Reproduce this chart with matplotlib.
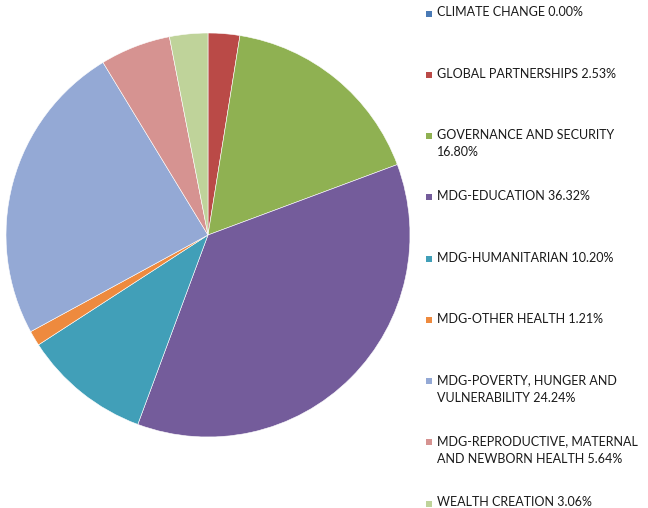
import matplotlib
matplotlib.use("Agg")
import matplotlib.pyplot as plt
from matplotlib.patches import Rectangle

categories = ["CLIMATE CHANGE", "GLOBAL PARTNERSHIPS", "GOVERNANCE AND SECURITY",
              "MDG-EDUCATION", "MDG-HUMANITARIAN", "MDG-OTHER HEALTH",
              "MDG-POVERTY, HUNGER AND VULNERABILITY",
              "MDG-REPRODUCTIVE, MATERNAL AND NEWBORN HEALTH", "WEALTH CREATION"]
values = [0.00, 2.53, 16.80, 36.32, 10.20, 1.21, 24.24, 5.64, 3.06]
legend_labels = ["CLIMATE CHANGE 0.00%", "GLOBAL PARTNERSHIPS 2.53%",
                 "GOVERNANCE AND SECURITY\n16.80%", "MDG-EDUCATION 36.32%",
                 "MDG-HUMANITARIAN 10.20%", "MDG-OTHER HEALTH 1.21%",
                 "MDG-POVERTY, HUNGER AND\nVULNERABILITY 24.24%",
                 "MDG-REPRODUCTIVE, MATERNAL\nAND NEWBORN HEALTH 5.64%",
                 "WEALTH CREATION 3.06%"]
colors = ["#4A7AB5", "#BA4A47", "#8FB152", "#745C9B", "#419FB8", "#EE8A3E",
          "#94A9D5", "#D69391", "#BFD39A"]

W, H = 648, 508
fig = plt.figure(figsize=(W / 100, H / 100), dpi=100)
fig.patch.set_facecolor("white")

cx, cy, r = 208, 235, 202
ax = fig.add_axes([(cx - r) / W, (H - cy - r) / H, 2 * r / W, 2 * r / H])
ax.pie(values, colors=colors, startangle=90, counterclock=False,
       wedgeprops=dict(edgecolor="white", linewidth=0.4))
ax.set_xlim(-1, 1)
ax.set_ylim(-1, 1)
ax.axis("off")

y0, dy = 13, 61.25
for i, (lab, col) in enumerate(zip(legend_labels, colors)):
    y = y0 + i * dy
    fig.patches.append(Rectangle(((426) / W, (H - y - 3.5) / H), 6 / W, 6 / H,
                                 transform=fig.transFigure, facecolor=col,
                                 edgecolor="none"))
    fig.text(437 / W, (H - y + 6.5) / H, lab, ha="left", va="top",
             fontsize=9, family="Lato", color="#1a1a1a", linespacing=1.55)

fig.savefig("out.png", dpi=100)
